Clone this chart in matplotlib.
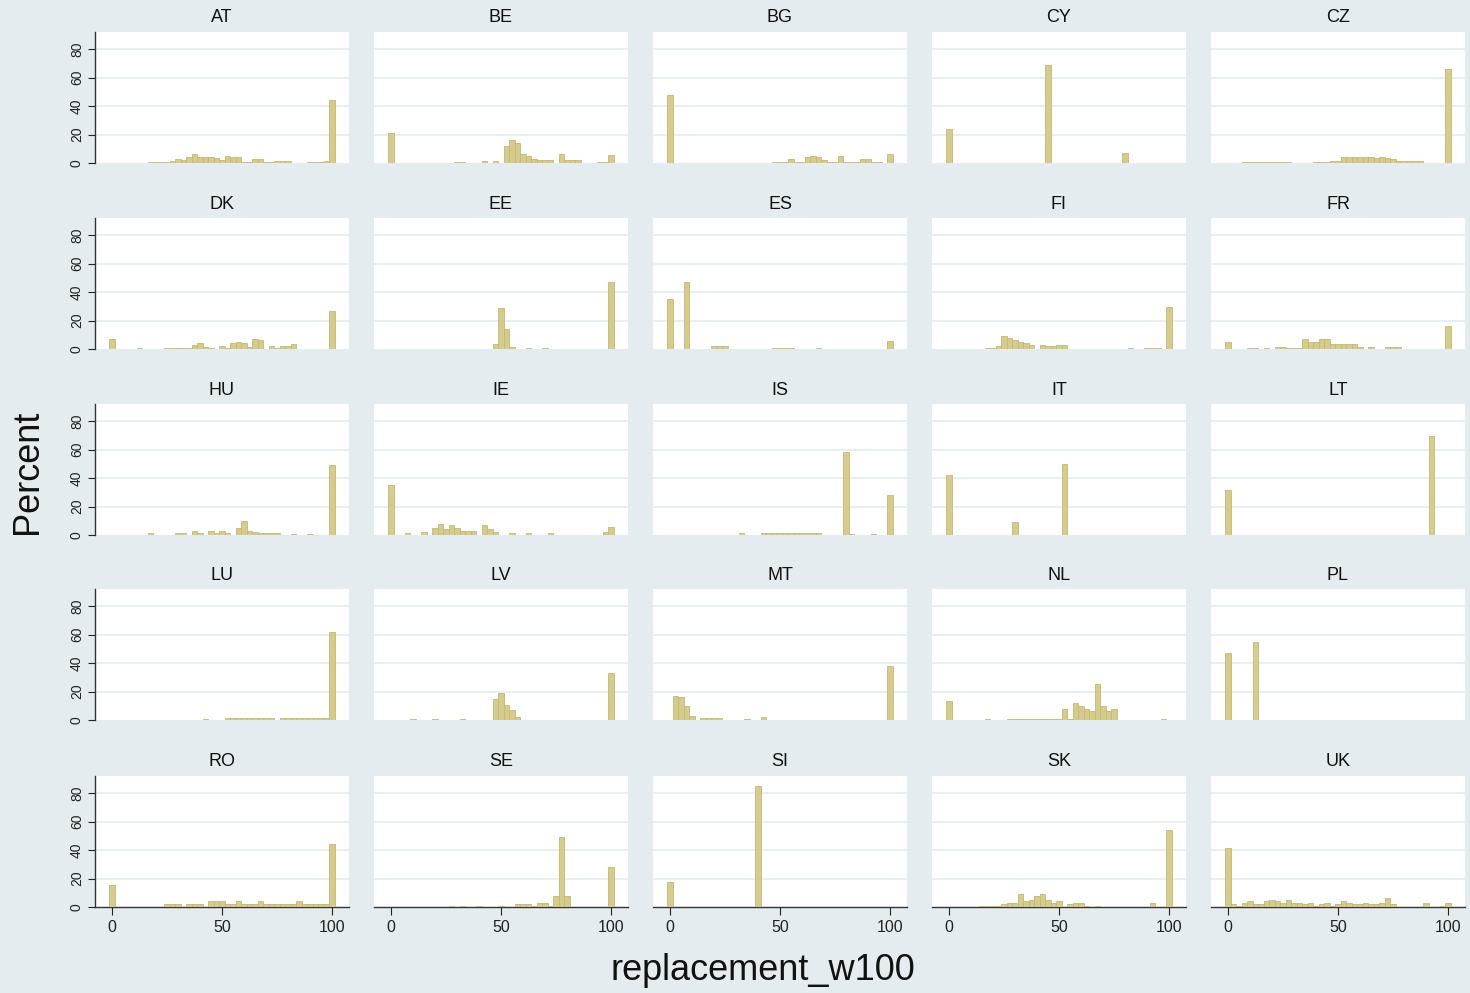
import numpy as np
import matplotlib
matplotlib.use("Agg")
import matplotlib.pyplot as plt

plt.rcParams['font.family'] = ['Liberation Sans', 'DejaVu Sans']

# histogram bins (centres), width 2.5
bin_centers = np.arange(0, 100.1, 2.5)
bin_width = 2.5

countries = ["AT", "BE", "BG", "CY", "CZ",
             "DK", "EE", "ES", "FI", "FR",
             "HU", "IE", "IS", "IT", "LT",
             "LU", "LV", "MT", "NL", "PL",
             "RO", "SE", "SI", "SK", "UK"]

# percent per bin, 41 bins (0, 2.5, ..., 100)
AT = [0, 0, 0, 0, 0, 0, 0, 0.5, 0.5, 0.5,
      0.5, 1.5, 2.5, 2, 4, 6.5, 4.5, 4, 4, 3.5,
      2, 5, 4, 4, 1, 1, 2.5, 2.5, 1, 1,
      1.5, 1.5, 1.5, 0, 0, 0, 1, 1, 1, 1.5, 44]
BE = [21, 0, 0, 0, 0, 0, 0, 0, 0, 0,
      0, 0, 0.5, 0.5, 0, 0, 0, 1.5, 0, 1.5,
      0, 12, 16, 14, 6, 5, 3, 2, 2, 2,
      0, 6, 2, 2, 2, 0, 0, 0, 0.5, 0.5, 5.5]
BG = [48, 0, 0, 0, 0, 0, 0, 0, 0, 0,
      0, 0, 0, 0, 0, 0, 0, 0, 0, 1,
      1, 1, 3, 1, 1, 4, 5, 4, 2, 1,
      1, 5, 1, 1, 1, 3, 3, 1, 1, 0, 6]
CY = [24, 0, 0, 0, 0, 0, 0, 0, 0, 0,
      0, 0, 0, 0, 0, 0, 0, 0, 69, 0,
      0, 0, 0, 0, 0, 0, 0, 0, 0, 0,
      0, 0, 7, 0, 0, 0, 0, 0, 0, 0, 0]
CZ = [0, 0, 0, 0.5, 0.5, 0.5, 0.5, 0.5, 0.5, 0.5,
      0.5, 0.5, 0, 0, 0, 0, 0.5, 0.5, 0.5, 1.5,
      1.5, 4, 4, 4, 4, 4, 4, 3.5, 4, 3.5,
      3, 1.5, 1.5, 1.5, 1.5, 1.5, 0, 0, 0, 0, 66]
DK = [7, 0, 0, 0, 0, 0.5, 0, 0, 0, 0,
      0.5, 0.5, 0.5, 0.5, 1, 3, 4, 1.5, 0.5, 0,
      2, 0.5, 4, 5, 4, 1.5, 7, 6, 0, 2,
      0.5, 2, 2, 3.5, 0, 0, 0, 0, 0, 0, 27]
EE = [0, 0, 0, 0, 0, 0, 0, 0, 0, 0,
      0, 0, 0, 0, 0, 0, 0, 0, 0, 3.5,
      28.5, 14, 1.5, 0, 0, 0.5, 0, 0, 1, 0,
      0, 0, 0, 0, 0, 0, 0, 0, 0, 0, 47]
ES = [35, 0, 0, 47, 0, 0, 0, 0, 2, 2,
      2, 0, 0, 0, 0, 0, 0, 0, 0, 0.4,
      0.5, 0.4, 0.5, 0, 0, 0, 0, 0.5, 0, 0,
      0, 0, 0, 0, 0, 0, 0, 0, 0.3, 0, 5.5]
FI = [0, 0, 0, 0, 0, 0, 0, 1, 1, 2,
      9, 8, 6.5, 5, 4, 3, 0, 3, 2, 2,
      3, 3, 0, 0, 0, 0, 0, 0, 0, 0,
      0, 0.3, 0, 0.5, 0, 0, 0.5, 0.5, 0.5, 0, 29.5]
FR = [4.8, 0, 0, 0, 0.5, 0.5, 0, 0.5, 0, 1.5,
      1.5, 1, 1, 1, 7, 5, 5, 7, 7, 3.5,
      3.5, 3.5, 3.5, 3.5, 1.5, 0, 1.5, 0, 0, 1.5,
      1.5, 1.5, 0, 0, 0, 0.3, 0, 0.3, 0, 0, 16]
HU = [0, 0, 0, 0, 0, 0, 0, 1.5, 0, 0,
      0, 0, 1.5, 1.5, 0, 3, 1.5, 0, 3, 1.5,
      3, 1.5, 0, 5, 10, 3, 2, 1.5, 1.5, 1.5,
      1.5, 0, 0, 1, 0, 0, 1, 0, 0, 0, 49]
IE = [35, 0, 0, 1.5, 0, 0, 2, 0, 5, 7.5,
      4, 7, 5, 3, 3, 3, 0, 7, 4, 2,
      0, 0, 1.5, 0, 0, 1.5, 0, 0, 0, 1.5,
      0, 0, 0, 0, 0, 0, 0, 0, 0, 2, 5.4]
IS = [0, 0, 0, 0, 0, 0, 0, 0, 0, 0,
      0, 0, 0, 1.5, 0, 0, 0, 1.5, 1.5, 1.5,
      1.5, 1.5, 1.5, 1.5, 1.5, 1.5, 1.5, 1.5, 0, 0,
      0, 0, 58, 1, 0, 0, 0, 1, 0, 0, 28]
IT = [42, 0, 0, 0, 0, 0, 0, 0, 0, 0,
      0, 0, 9, 0, 0, 0, 0, 0, 0, 0,
      0, 50, 0, 0, 0, 0, 0, 0, 0, 0,
      0, 0, 0, 0, 0, 0, 0, 0, 0, 0, 0]
LT = [31.5, 0, 0, 0, 0, 0, 0, 0, 0, 0,
      0, 0, 0, 0, 0, 0, 0, 0, 0, 0,
      0, 0, 0, 0, 0, 0, 0, 0, 0, 0,
      0, 0, 0, 0, 0, 0, 0, 69.5, 0, 0, 0]
LU = [0, 0, 0, 0, 0, 0, 0, 0, 0, 0,
      0, 0, 0, 0, 0, 0, 0, 0.5, 0, 0,
      0, 1.5, 1.5, 1.5, 1.5, 1.5, 1.5, 1.5, 1.5, 1.5,
      0, 1.5, 1.5, 1.5, 1.5, 1.5, 1.5, 1.5, 1.5, 1.5, 62]
LV = [0, 0, 0.3, 0, 0.5, 0, 0.3, 0, 0.5, 0,
      0, 0.3, 0, 0.5, 0, 0, 0, 0, 0, 14.5,
      19, 10.5, 7, 2, 0, 0, 0, 0, 0, 0.3,
      0, 0.3, 0, 0.3, 0, 0.3, 0, 0, 0, 0, 33]
MT = [0, 17, 16, 10, 3, 0, 1.5, 1.5, 1.5, 1.5,
      0, 0.3, 0, 0, 0.5, 0, 0, 2, 0, 0,
      0, 0, 0, 0, 0, 0, 0, 0, 0, 0,
      0, 0, 0, 0, 0, 0, 0, 0, 0, 0, 38]
NL = [13, 0, 0, 0, 0, 0, 0, 0.5, 0, 0,
      0, 0.5, 0.5, 0.5, 0.5, 0.5, 0.5, 0.5, 0.5, 0.5,
      0.5, 8, 1, 12, 10, 8, 6, 25, 10, 6,
      8, 0, 0, 0, 0, 0, 0, 0, 0, 0.5, 0]
PL = [47, 0, 0, 0, 0, 54.5, 0, 0, 0, 0,
      0, 0, 0, 0, 0, 0, 0, 0, 0, 0,
      0, 0, 0, 0, 0, 0, 0, 0, 0, 0,
      0, 0, 0, 0, 0, 0, 0, 0, 0, 0, 0]
RO = [15.5, 0, 0, 0, 0, 0, 0, 0, 0, 0,
      2, 2, 2, 0, 2, 2, 2, 0, 4, 4,
      4, 2, 2, 4, 2, 2, 2, 4, 2, 2,
      2, 2, 2, 2, 4, 2, 2, 2, 2, 2, 44]
SE = [0, 0, 0, 0, 0, 0, 0, 0, 0, 0,
      0, 0.5, 0, 0.5, 0, 0, 0.5, 0, 0, 0,
      0.5, 0, 0, 2, 2, 2, 0.5, 3, 3, 1,
      8, 49, 8, 0, 0, 0, 0, 0, 0, 0, 28]
SI = [17.3, 0, 0, 0, 0, 0, 0, 0, 0, 0,
      0, 0, 0, 0, 0, 0, 84.8, 0, 0, 0,
      0, 0, 0, 0, 0, 0, 0, 0, 0, 0,
      0, 0, 0, 0, 0, 0, 0, 0, 0, 0, 0]
SK = [0, 0, 0, 0, 0, 0, 0.5, 0.5, 0.5, 0.5,
      2, 3, 3, 9, 4, 5, 8, 9, 5, 3,
      4, 0, 2, 3, 3, 1, 0, 0.5, 0, 0,
      0, 0, 0, 0, 0, 0, 0, 3, 0, 0, 54]
UK = [41.5, 2, 0.5, 3, 4, 2, 2, 4, 5, 4,
      3, 5, 3, 3, 2, 3, 1, 2, 3, 1,
      2, 4, 3, 2, 2, 3, 2, 2, 3, 6,
      2, 0, 0, 0, 0, 0, 3, 0, 0, 0.5, 3]

series = [AT, BE, BG, CY, CZ, DK, EE, ES, FI, FR, HU, IE, IS, IT, LT,
          LU, LV, MT, NL, PL, RO, SE, SI, SK, UK]

y_ticks = [0, 20, 40, 60, 80]
x_ticks = [0, 50, 100]

bg = '#E4ECEF'
bar_fill = '#D5CB8C'
bar_edge = '#C4B873'
grid_col = '#E6EEF1'

W, H = 1470, 993
fig = plt.figure(figsize=(W / 100, H / 100), dpi=100, facecolor=bg)

col_left = [95, 374, 653, 932, 1211]
panel_w = 254
row_base = [163, 349, 535, 720, 907]
panel_h = 131

for k, (name, vals) in enumerate(zip(countries, series)):
    r, c = divmod(k, 5)
    ax = fig.add_axes([col_left[c] / W, 1 - row_base[r] / H,
                       panel_w / W, panel_h / H])
    ax.set_facecolor('white')
    xs = [x for x, v in zip(bin_centers, vals) if v > 0]
    hs = [v for v in vals if v > 0]
    ax.bar(xs, hs, width=bin_width, color=bar_fill, edgecolor=bar_edge,
           linewidth=0.6, zorder=3)
    ax.set_xlim(-7.7, 107.7)
    ax.set_ylim(0, 92)
    for yv in y_ticks[1:]:
        ax.axhline(yv, color=grid_col, lw=1.3, zorder=1)
    for s in ax.spines.values():
        s.set_visible(False)
    ax.set_yticks(y_ticks)
    ax.set_xticks(x_ticks)
    ax.tick_params(axis='both', colors='#222222')
    if c == 0:
        ax.spines['left'].set_visible(True)
        ax.spines['left'].set_color('#333333')
        ax.spines['left'].set_linewidth(1.0)
        ax.tick_params(axis='y', length=5, width=0.8, pad=3,
                       labelsize=10, labelrotation=90)
        for lab in ax.get_yticklabels():
            lab.set_va('center')
    else:
        ax.tick_params(axis='y', left=False, labelleft=False)
    if r == 4:
        ax.spines['bottom'].set_visible(True)
        ax.spines['bottom'].set_color('#333333')
        ax.spines['bottom'].set_linewidth(1.0)
        ax.tick_params(axis='x', length=6, width=0.8, pad=3, labelsize=11.5)
    else:
        ax.tick_params(axis='x', bottom=False, labelbottom=False)
    fig.text((col_left[c] + panel_w / 2) / W, 1 - (row_base[r] - panel_h - 14) / H,
             name, ha='center', va='center', fontsize=13, color='#111111')

fig.text(28 / W, 1 - 472 / H, 'Percent', rotation=90, ha='center', va='center',
         fontsize=26, color='#111111')
fig.text(763 / W, 1 - 970 / H, 'replacement_w100', ha='center', va='center',
         fontsize=26, color='#111111')

plt.savefig('out.png', dpi=100, facecolor=bg)
